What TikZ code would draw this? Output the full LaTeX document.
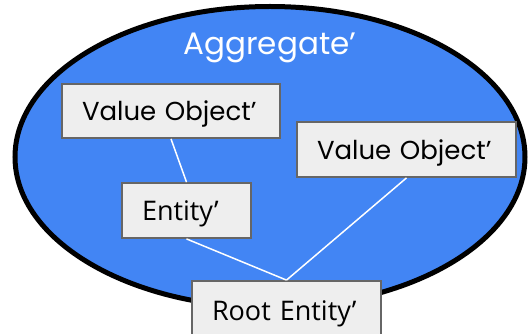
\documentclass[tikz,border=0pt]{standalone}
\usepackage{fontspec}
\setmainfont{Poppins}
\newfontfamily\opensans{Open Sans}
\definecolor{gblue}{HTML}{4285F4}
\definecolor{boxfill}{HTML}{EEEEEE}
\definecolor{boxline}{HTML}{666666}
\begin{document}
\begin{tikzpicture}[x=1pt,y=-1pt,
  box/.style={draw=boxline, fill=boxfill, line width=1.8pt, inner xsep=20pt, inner ysep=0pt,
    align=left, text height=20pt, text depth=0pt, anchor=center},
  vofont/.style={font=\fontsize{26}{30}\selectfont},
  osfont/.style={font=\opensans\fontsize{27}{31}\selectfont},
  link/.style={draw=white, line width=1.5pt}]
\useasboundingbox (0,0) rectangle (528,334);
\clip (0,0) rectangle (528,334);
\draw[line width=5pt, fill=gblue] (270,157) ellipse [x radius=255pt, y radius=150.5pt];
\node[text=white, font=\fontsize{31}{36}\selectfont, anchor=base] (agg) at (270,55) {Aggregate’};
\node[box, vofont, minimum width=218pt, minimum height=54pt, text width=178pt] (vo1) at (171,111) {\mbox{Value Object’}};
\node[box, vofont, minimum width=219pt, minimum height=55pt, text width=179pt] (vo2) at (406.5,149.5) {\mbox{Value Object’}};
\node[box, osfont, minimum width=129pt, minimum height=55pt, text width=89pt] (ent) at (186.5,210.5) {\mbox{Entity’}};
\node[box, osfont, minimum width=189pt, minimum height=55pt, text width=149pt, text height=23pt] (root) at (286.5,308.5) {\mbox{Root Entity’}};
\draw[link] (vo1.south) -- (ent.north);
\draw[link] (ent.south) -- (root.north);
\draw[link] (vo2.south) -- (root.north);
\end{tikzpicture}
\end{document}
